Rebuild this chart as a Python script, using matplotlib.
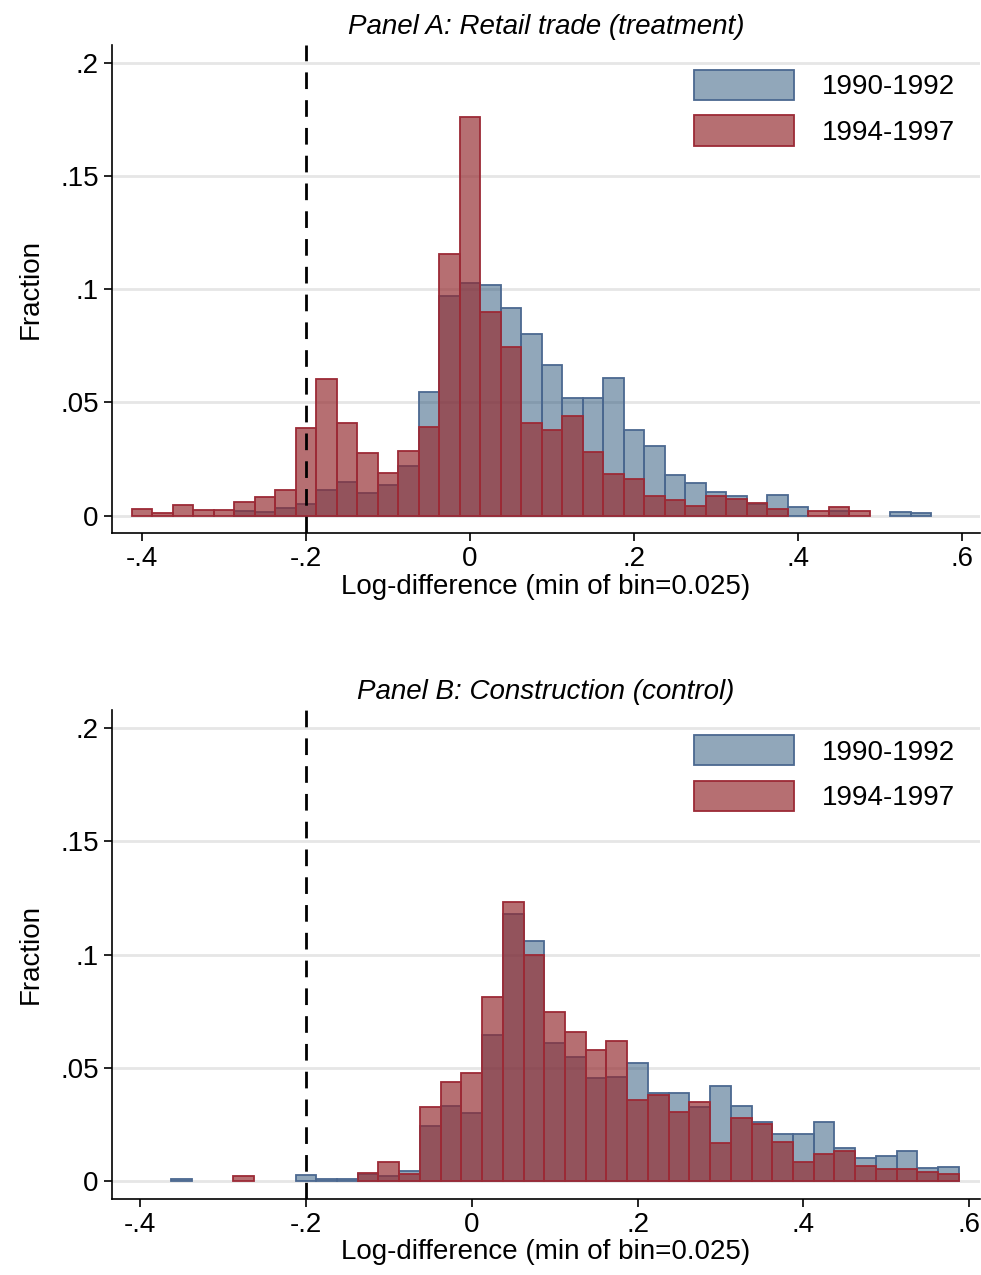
import numpy as np
import matplotlib.pyplot as plt

plt.rcParams['font.family'] = ['Arial', 'Liberation Sans', 'DejaVu Sans']

# bins of width 0.025, left edges starting at -0.4125
bin_left = -0.4125 + 0.025 * np.arange(40)
bin_w = 0.025

# Panel A: retail trade
a_9092 = [0, 0, 0, 0, 0, 0.0018, 0.0015, 0.0034, 0.0053, 0.0114,
          0.0149, 0.010, 0.0136, 0.022, 0.0547, 0.0968, 0.1025, 0.1019, 0.0916, 0.0802,
          0.0665, 0.0521, 0.0518, 0.0609, 0.0379, 0.0308, 0.0178, 0.0145, 0.0106, 0.0088,
          0.005, 0.0091, 0.0037, 0, 0.0018, 0, 0, 0.0016, 0.0013, 0]
a_9497 = [0.003, 0.0012, 0.0047, 0.0025, 0.0025, 0.0059, 0.008, 0.0114, 0.0388, 0.0602,
          0.041, 0.0274, 0.0187, 0.0286, 0.039, 0.1153, 0.176, 0.0901, 0.0746, 0.041,
          0.0379, 0.0441, 0.0282, 0.0184, 0.0162, 0.0086, 0.0068, 0.0044, 0.0086, 0.0071,
          0.0056, 0.003, 0, 0.0022, 0.0038, 0.002, 0, 0, 0, 0]

# Panel B: construction
b_9092 = [0, 0, 0.001, 0, 0, 0, 0, 0, 0.0025, 0.0008,
          0.0008, 0.003, 0.0022, 0.0043, 0.0244, 0.0332, 0.0299, 0.0645, 0.118, 0.106,
          0.061, 0.0548, 0.0454, 0.046, 0.052, 0.0387, 0.0391, 0.0328, 0.042, 0.0332,
          0.0263, 0.0209, 0.0209, 0.0259, 0.0146, 0.0101, 0.0109, 0.0135, 0.0057, 0.006]
b_9497 = [0, 0, 0, 0, 0, 0.0022, 0, 0, 0, 0,
          0, 0.0034, 0.0084, 0.0031, 0.0325, 0.0438, 0.0478, 0.0813, 0.1232, 0.1,
          0.0748, 0.0659, 0.0579, 0.0617, 0.0357, 0.0378, 0.0306, 0.0351, 0.0166, 0.0279,
          0.0251, 0.0171, 0.0084, 0.0121, 0.0134, 0.0068, 0.0054, 0.0054, 0.004, 0.0031]

labels = ['1990-1992', '1994-1997']
yticks = [0, 0.05, 0.1, 0.15, 0.2]
ytick_lab = ['0', '.05', '.1', '.15', '.2']
xticks = [-0.4, -0.2, 0, 0.2, 0.4, 0.6]
xtick_lab = ['-.4', '-.2', '0', '.2', '.4', '.6']

fig = plt.figure(figsize=(9.81, 12.75), dpi=100)
ax1 = fig.add_axes([0.114, 0.582, 0.885, 0.383])
ax2 = fig.add_axes([0.114, 0.060, 0.885, 0.383])

panels = [(ax1, a_9092, a_9497, 'Panel A: Retail trade (treatment)', (-0.437, 0.622)),
          (ax2, b_9092, b_9497, 'Panel B: Construction (control)', (-0.434, 0.613))]

for ax, blue, red, title, xl in panels:
    for yt in yticks:
        ax.axhline(yt, color='#e6e6e6', lw=2, zorder=0)
    blue = np.array(blue)
    red = np.array(red)
    nb = blue > 0
    nr = red > 0
    ax.bar(bin_left[nb], blue[nb], width=bin_w, align='edge', color=(0.10, 0.28, 0.44, 0.48),
           edgecolor='#4b6890', linewidth=1.3, label=labels[0], zorder=2)
    ax.bar(bin_left[nr], red[nr], width=bin_w, align='edge', color=(0.58, 0.17, 0.19, 0.68),
           edgecolor='#9c2a36', linewidth=1.3, label=labels[1], zorder=3)
    ax.axvline(-0.2, color='black', lw=2, linestyle=(0, (6, 4)), zorder=4)
    ax.set_xlim(*xl)
    ax.set_ylim(-0.0077, 0.208)
    ax.set_yticks(yticks)
    ax.set_yticklabels(ytick_lab, fontsize=20)
    ax.set_xticks(xticks)
    ax.set_xticklabels(xtick_lab, fontsize=20)
    ax.tick_params(length=6, width=1.2)
    for s in ['top', 'right']:
        ax.spines[s].set_visible(False)
    for s in ['left', 'bottom']:
        ax.spines[s].set_linewidth(1.2)
    ax.set_title(title, fontsize=20, style='italic', pad=8)
    ax.set_ylabel('Fraction', fontsize=20, labelpad=12)
    ax.set_xlabel('Log-difference (min of bin=0.025)', fontsize=20, labelpad=1)
    ax.legend(loc='upper right', fontsize=20, frameon=False, handlelength=3.6,
              handleheight=1.3, labelspacing=0.55, handletextpad=1.0)

fig.savefig('out.png', dpi=100)
